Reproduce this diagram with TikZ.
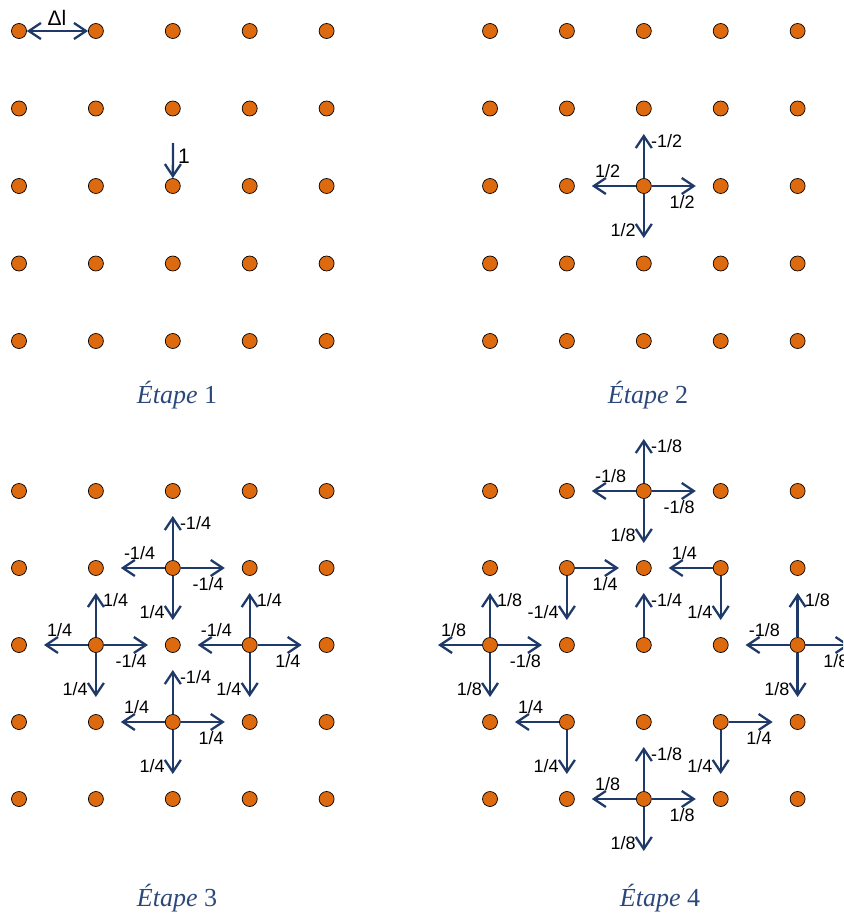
\documentclass[tikz,border=0pt]{standalone}
\usepackage{fontspec}
\setmainfont{Liberation Serif}
\setsansfont{Liberation Sans}
\usetikzlibrary{arrows.meta,calc}
\definecolor{dotorange}{RGB}{222,106,16}
\definecolor{arrblue}{RGB}{31,58,104}
\definecolor{capblue}{RGB}{44,72,122}
\tikzset{
  dot/.style={circle,draw=black,line width=0.7pt,fill=dotorange,minimum size=15pt,inner sep=0pt},
  arr/.style={draw=arrblue,line width=2.3pt,-{Straight Barb[length=12pt,width=16pt]}},
  arrboth/.style={draw=arrblue,line width=2.3pt,{Straight Barb[length=12pt,width=16pt]}-{Straight Barb[length=12pt,width=16pt]}},
  lbl/.style={font=\sffamily\fontsize{18}{20}\selectfont,inner sep=0pt,text=black},
  captxt/.style={font=\fontsize{26}{30}\selectfont,text=capblue,anchor=base}
}
\newcommand\arU[2]{\coordinate (#1u) at ($(#1)+(0,-52)$); \draw[arr] (#1) -- (#1u);
  \node[lbl,anchor=west] (#1ul) at ($(#1)+(7,-45)$) {#2};}
\newcommand\arD[2]{\coordinate (#1d) at ($(#1)+(0,52)$); \draw[arr] (#1) -- (#1d);
  \node[lbl,anchor=east] (#1dl) at ($(#1)+(-8,44)$) {#2};}
\newcommand\arL[2]{\coordinate (#1l) at ($(#1)+(-52,0)$); \draw[arr] (#1) -- (#1l);
  \node[lbl,anchor=south west] (#1ll) at ($(#1)+(-49,-8)$) {#2};}
\newcommand\arR[2]{\coordinate (#1r) at ($(#1)+(52,0)$); \draw[arr] (#1) -- (#1r);
  \node[lbl,anchor=north east] (#1rl) at ($(#1)+(51,9)$) {#2};}
\begin{document}
\begin{tikzpicture}[x=1pt,y=-1pt]
\useasboundingbox (0,0) rectangle (843,915);
\clip (0,0) rectangle (843,915);
% dots
\foreach \i in {0,...,4}{
  \foreach \j in {0,...,4}{
    \node[dot] (a-\i-\j) at ({19+76.9*\i},{31+77.5*\j}) {};
    \node[dot] (b-\i-\j) at ({490+76.9*\i},{31+77.5*\j}) {};
    \node[dot] (c-\i-\j) at ({19+76.9*\i},{491+77*\j}) {};
    \node[dot] (d-\i-\j) at ({490+76.9*\i},{491+77*\j}) {};
  }
}
% panel 1
\draw[arrboth] (a-0-0) -- (a-1-0);
\node[font=\sffamily\fontsize{21}{23}\selectfont,inner sep=0pt] (dl) at (57,18) {Δl};
\coordinate (onetop) at (173,143);
\draw[arr] (onetop) -- (a-2-2);
\node[font=\sffamily\fontsize{21}{23}\selectfont,inner sep=0pt,anchor=west] (one) at (178,156) {1};
% panel 2
\arU{b-2-2}{-1/2}\arL{b-2-2}{1/2}\arR{b-2-2}{1/2}\arD{b-2-2}{1/2}
% panel 3
\arU{c-2-1}{-1/4}\arL{c-2-1}{-1/4}\arR{c-2-1}{-1/4}\arD{c-2-1}{1/4}
\arU{c-1-2}{1/4}\arL{c-1-2}{1/4}\arR{c-1-2}{-1/4}\arD{c-1-2}{1/4}
\arU{c-3-2}{1/4}\arL{c-3-2}{-1/4}\arR{c-3-2}{1/4}\arD{c-3-2}{1/4}
\arU{c-2-3}{-1/4}\arL{c-2-3}{1/4}\arR{c-2-3}{1/4}\arD{c-2-3}{1/4}
% panel 4
\arU{d-2-0}{-1/8}\arL{d-2-0}{-1/8}\arR{d-2-0}{-1/8}\arD{d-2-0}{1/8}
\arR{d-1-1}{1/4}\arD{d-1-1}{-1/4}
\arL{d-3-1}{1/4}\arD{d-3-1}{1/4}
\arU{d-2-2}{-1/4}
\arU{d-0-2}{1/8}\arL{d-0-2}{1/8}\arR{d-0-2}{-1/8}\arD{d-0-2}{1/8}
\arU{d-4-2}{1/8}\arL{d-4-2}{-1/8}\arR{d-4-2}{1/8}\arD{d-4-2}{1/8}
\arL{d-1-3}{1/4}\arD{d-1-3}{1/4}
\arR{d-3-3}{1/4}\arD{d-3-3}{1/4}
\arU{d-2-4}{-1/8}\arL{d-2-4}{1/8}\arR{d-2-4}{1/8}\arD{d-2-4}{1/8}
% captions
\node[captxt] (cap1) at (177,403) {\textit{Étape} 1};
\node[captxt] (cap2) at (648,403) {\textit{Étape} 2};
\node[captxt] (cap3) at (177,906) {\textit{Étape} 3};
\node[captxt] (cap4) at (660,906) {\textit{Étape} 4};
\end{tikzpicture}
\end{document}
